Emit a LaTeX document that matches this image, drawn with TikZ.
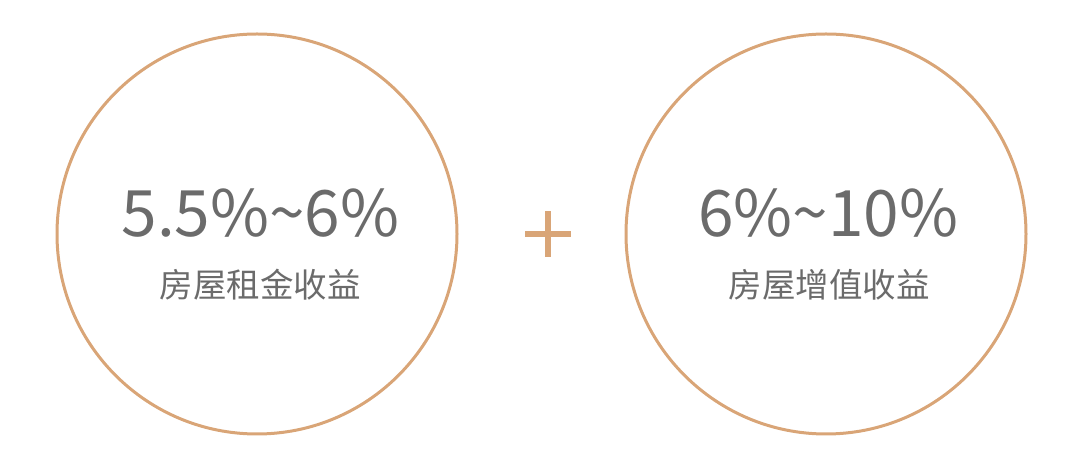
\documentclass[tikz,border=0pt]{standalone}
\usepackage{fontspec}
\setmainfont{Noto Sans CJK SC}
\usetikzlibrary{positioning, calc}
\usepackage{xcolor}
\definecolor{ringtan}{HTML}{D9A577}
\definecolor{textgray}{HTML}{6B6B6B}

\begin{document}
\begin{tikzpicture}[x=1pt, y=1pt,
  ring/.style={draw=ringtan, line width=3pt, circle, minimum size=400pt, inner sep=0pt},
  rate/.style={text=textgray, font=\fontsize{64}{66}\selectfont, anchor=base},
  caption/.style={text=textgray, font=\fontsize{33.5}{35}\selectfont, anchor=base}]
  % canvas
  \useasboundingbox (0,0) rectangle (1080,468);

  % rings
  \node[ring] (rent) at (257,234) {};
  \node[ring] (gain) at (826,234) {};

  % rates and captions
  \node[rate] (rentrate) at ($(rent.center)+(3.5,-3)$) {5.5\%\char"007E 6\%};
  \node[caption] (rentcap) at ($(rent.center)+(3,-64)$) {房屋租金收益};
  \node[rate] (gainrate) at ($(gain.center)+(2,-3)$) {6\%\char"007E 10\%};
  \node[caption] (gaincap) at ($(gain.center)+(3,-64)$) {房屋增值收益};

  % plus sign
  \coordinate (P) at (548,234);
  \draw[ringtan, line width=6pt] ($(P)+(-23,0)$) -- ($(P)+(23,0)$);
  \draw[ringtan, line width=6pt] ($(P)+(0,-23)$) -- ($(P)+(0,23)$);
\end{tikzpicture}
\end{document}
